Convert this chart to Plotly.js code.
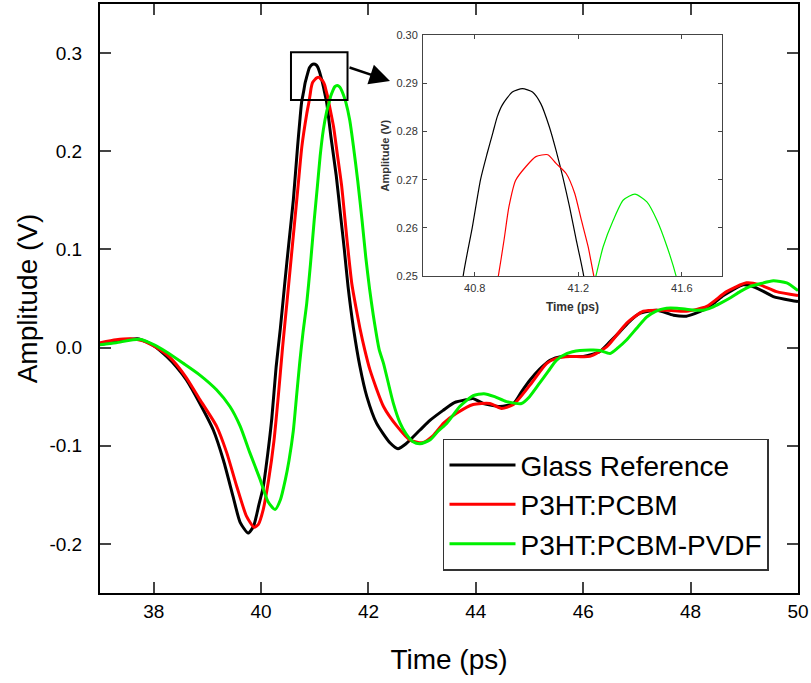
<!DOCTYPE html>
<html>
<head>
<meta charset="utf-8">
<script src="https://cdn.plot.ly/plotly-3.0.1.min.js"></script>
<style>html,body{margin:0;padding:0;background:#fff;}#chart{width:811px;height:683px;}</style>
</head>
<body>
<div id="chart"></div>
<script>
// ---- data ----
const seriesNames = ["Glass Reference", "P3HT:PCBM", "P3HT:PCBM-PVDF"];

const tGlass = [37.0,37.3,37.7,38.0,38.24,38.43,38.61,38.86,39.11,39.30,39.48,39.61,39.76,39.86,39.96,40.04,40.12,40.20,40.28,40.36,40.44,40.52,40.60,40.68,40.72,40.755,40.79,40.822,40.848,40.870,40.887,40.906,40.945,40.984,41.023,41.055,41.088,41.114,41.14,41.166,41.192,41.221,41.30,41.40,41.48,41.55,41.62,41.72,41.84,41.97,42.15,42.40,42.55,42.70,42.96,43.15,43.39,43.60,43.83,43.95,44.14,44.45,44.70,44.85,45.01,45.19,45.38,45.60,46.00,46.31,46.50,46.68,46.85,47.06,47.37,47.68,47.92,48.23,48.45,48.61,48.98,49.17,49.40,49.54,49.88,50.0];
const vGlass = [0.003,0.006,0.009,0.002,-0.009,-0.020,-0.033,-0.057,-0.084,-0.115,-0.152,-0.178,-0.189,-0.182,-0.160,-0.142,-0.110,-0.072,-0.020,0.020,0.065,0.108,0.150,0.205,0.230,0.250,0.260,0.270,0.2755,0.2798,0.2831,0.2855,0.2882,0.2889,0.2882,0.2858,0.281,0.2761,0.2706,0.2644,0.2575,0.250,0.215,0.175,0.135,0.100,0.062,0.020,-0.019,-0.050,-0.077,-0.097,-0.103,-0.098,-0.084,-0.074,-0.064,-0.056,-0.053,-0.052,-0.057,-0.060,-0.057,-0.045,-0.033,-0.022,-0.013,-0.009,-0.009,-0.004,0.006,0.016,0.026,0.035,0.038,0.033,0.032,0.038,0.046,0.053,0.064,0.062,0.056,0.052,0.048,0.047];

const tPCBM = [37.0,37.3,37.56,37.8,38.05,38.30,38.60,38.86,39.17,39.36,39.55,39.73,39.87,39.95,40.04,40.14,40.24,40.32,40.40,40.48,40.55,40.62,40.69,40.76,40.85,40.891,40.913,40.932,40.958,40.997,41.036,41.082,41.114,41.153,41.186,41.212,41.238,41.26,41.35,41.42,41.50,41.60,41.69,41.77,41.84,41.93,42.03,42.28,42.53,42.77,43.00,43.20,43.40,43.64,43.95,44.26,44.48,44.70,45.01,45.32,45.50,45.75,46.12,46.44,46.81,47.12,47.55,47.92,48.30,48.67,49.04,49.29,49.60,50.0];
const vPCBM = [0.005,0.008,0.009,0.007,0.000,-0.010,-0.030,-0.053,-0.080,-0.107,-0.142,-0.172,-0.183,-0.180,-0.165,-0.135,-0.095,-0.050,0.000,0.045,0.085,0.125,0.165,0.205,0.238,0.250,0.2575,0.2644,0.2699,0.2727,0.2748,0.2752,0.2734,0.2713,0.2672,0.2616,0.2561,0.250,0.225,0.197,0.165,0.110,0.065,0.040,0.020,-0.002,-0.023,-0.060,-0.080,-0.094,-0.097,-0.090,-0.077,-0.067,-0.058,-0.057,-0.062,-0.058,-0.038,-0.016,-0.011,-0.009,-0.009,0.001,0.025,0.037,0.038,0.037,0.042,0.057,0.066,0.064,0.057,0.053];

const tPVDF = [37.0,37.3,37.74,38.0,38.24,38.55,38.86,39.17,39.42,39.61,39.79,39.98,40.13,40.26,40.36,40.45,40.52,40.60,40.66,40.72,40.78,40.85,40.92,40.99,41.05,41.10,41.16,41.22,41.268,41.296,41.335,41.374,41.419,41.465,41.504,41.543,41.578,41.65,41.72,41.80,41.88,41.95,42.02,42.09,42.20,42.28,42.46,42.59,42.70,42.83,42.96,43.15,43.30,43.46,43.70,43.95,44.15,44.35,44.57,44.85,45.00,45.19,45.35,45.50,45.70,45.94,46.19,46.31,46.50,46.65,46.81,47.00,47.18,47.35,47.55,47.75,47.92,48.23,48.40,48.55,48.75,48.92,49.10,49.29,49.54,49.79,50.0];
const vPVDF = [0.003,0.005,0.0085,0.003,-0.0045,-0.016,-0.028,-0.043,-0.060,-0.080,-0.107,-0.134,-0.157,-0.165,-0.155,-0.135,-0.115,-0.085,-0.050,-0.015,0.015,0.045,0.085,0.130,0.165,0.195,0.222,0.240,0.250,0.2561,0.2616,0.2658,0.267,0.2654,0.2616,0.2561,0.250,0.232,0.205,0.170,0.130,0.092,0.060,0.033,-0.002,-0.016,-0.056,-0.077,-0.088,-0.096,-0.098,-0.094,-0.085,-0.077,-0.060,-0.049,-0.047,-0.050,-0.055,-0.057,-0.050,-0.036,-0.024,-0.013,-0.006,-0.003,-0.0025,-0.003,-0.006,0.000,0.008,0.020,0.031,0.037,0.040,0.040,0.039,0.038,0.041,0.045,0.051,0.057,0.062,0.065,0.068,0.066,0.058];

const xTickVals = [38,40,42,44,46,48,50];
const yTickVals = [-0.2,-0.1,0.0,0.1,0.2,0.3];
const yTickText = ["-0.2","-0.1","0.0","0.1","0.2","0.3"];
const insetXTicks = [40.8,41.2,41.6];
const insetYTicks = [0.25,0.26,0.27,0.28,0.29,0.30];
const insetYText = ["0.25","0.26","0.27","0.28","0.29","0.30"];

// ---- styling ----
const colors = ["#000000", "#ff0000", "#00f000"];
const FONT = "'Liberation Sans', Arial, sans-serif";
const allT = [tGlass, tPCBM, tPVDF];
const allV = [vGlass, vPCBM, vPVDF];

const traces = [];
for (let i = 0; i < 3; i++) {
  traces.push({
    x: allT[i], y: allV[i], name: seriesNames[i], type: "scatter", mode: "lines",
    line: {color: colors[i], width: 3, shape: "spline", smoothing: 0.6},
    xaxis: "x", yaxis: "y"
  });
}
for (let i = 0; i < 3; i++) {
  traces.push({
    x: allT[i], y: allV[i], name: seriesNames[i], type: "scatter", mode: "lines",
    line: {color: colors[i], width: 1.2, shape: "spline", smoothing: 0.6},
    xaxis: "x2", yaxis: "y2", showlegend: false
  });
}

const layout = {
  width: 811, height: 683,
  margin: {l: 100, r: 13, t: 4, b: 90},
  paper_bgcolor: "#ffffff", plot_bgcolor: "#ffffff",
  font: {family: FONT, color: "#000"},
  showlegend: true,
  legend: {
    x: 0.4914, y: 0.262, xanchor: "left", yanchor: "top",
    bgcolor: "#ffffff", bordercolor: "#333333", borderwidth: 1.5,
    font: {family: FONT, size: 28, color: "#000"},
    itemwidth: 66, tracegroupgap: 0
  },
  xaxis: {
    range: [37, 50], tickvals: xTickVals, ticks: "inside", ticklen: 11, tickwidth: 2,
    showline: true, linewidth: 2, linecolor: "#000", mirror: "ticks", showgrid: false, zeroline: false,
    tickfont: {family: FONT, size: 19, color: "#000"}, ticklabelstandoff: 0,
    title: {text: "Time (ps)", font: {family: FONT, size: 28, color: "#000"}, standoff: 29}
  },
  yaxis: {
    range: [-0.25, 0.35], tickvals: yTickVals, ticktext: yTickText, ticks: "inside", ticklen: 11, tickwidth: 2,
    showline: true, linewidth: 2, linecolor: "#000", mirror: "ticks", showgrid: false, zeroline: false,
    tickfont: {family: FONT, size: 19, color: "#000"}, ticklabelstandoff: 12,
    title: {text: "Amplitude (V)", font: {family: FONT, size: 28, color: "#000"}, standoff: 4}
  },
  xaxis2: {
    domain: [0.4628, 0.891], anchor: "y2", range: [40.6, 41.755], tickvals: insetXTicks,
    ticks: "inside", ticklen: 4, tickwidth: 1, tickcolor: "#444",
    showline: true, linewidth: 1, linecolor: "#444", mirror: "ticks", showgrid: false, zeroline: false,
    tickfont: {family: FONT, size: 11, color: "#333"}, ticklabelstandoff: 2,
    title: {text: "<b>Time (ps)</b>", font: {family: FONT, size: 12, color: "#333"}, standoff: 9}
  },
  yaxis2: {
    domain: [0.538, 0.947], anchor: "x2", range: [0.25, 0.30], tickvals: insetYTicks, ticktext: insetYText,
    ticks: "inside", ticklen: 4, tickwidth: 1, tickcolor: "#444",
    showline: true, linewidth: 1, linecolor: "#444", mirror: "ticks", showgrid: false, zeroline: false,
    tickfont: {family: FONT, size: 11, color: "#333"}, ticklabelstandoff: 2,
    title: {text: "<b>Amplitude (V)</b>", font: {family: FONT, size: 11, color: "#333"}, standoff: 4}
  },
  shapes: [
    {type: "rect", xref: "x", yref: "y", x0: 40.557, x1: 41.61, y0: 0.2522, y1: 0.3008,
     line: {color: "#000", width: 2}, fillcolor: "rgba(0,0,0,0)"}
  ],
  annotations: [
    {xref: "paper", yref: "paper", x: (390 - 100) / 698, y: (593 - 81) / 589,
     axref: "pixel", ayref: "pixel", ax: -42, ay: -14, showarrow: true,
     arrowhead: 2, arrowsize: 1.7, arrowwidth: 2.4, arrowcolor: "#000", text: ""}
  ]
};

Plotly.newPlot("chart", traces, layout, {displayModeBar: false, staticPlot: true});
</script>
</body>
</html>
